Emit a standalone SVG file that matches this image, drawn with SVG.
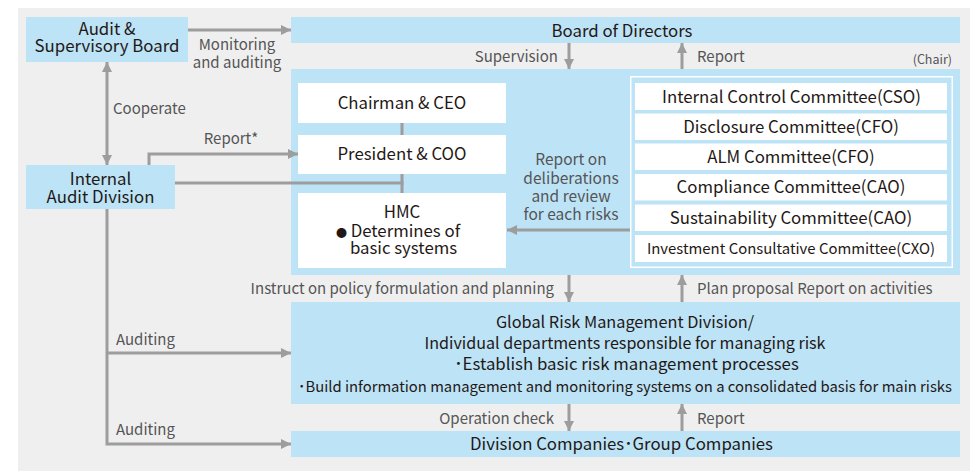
<svg xmlns="http://www.w3.org/2000/svg" width="979" height="472" viewBox="0 0 979 472">
<defs>
<marker id="ah" markerUnits="userSpaceOnUse" markerWidth="10" markerHeight="10" refX="10" refY="5" orient="auto"><path d="M0,0 L10,5 L0,10 z" fill="#9d9d9d"/></marker>
<marker id="as" markerUnits="userSpaceOnUse" markerWidth="10" markerHeight="10" refX="0" refY="5" orient="auto"><path d="M10,0 L0,5 L10,10 z" fill="#9d9d9d"/></marker>
<style>
.b{fill:#bde3f7}
.w{fill:#ffffff}
.t{font-family:"Noto Sans CJK JP","Noto Sans",sans-serif;font-size:16.8px;fill:#231815;text-anchor:middle}
.c{font-family:"Noto Sans CJK JP","Noto Sans",sans-serif;font-size:16.8px;fill:#231815;text-anchor:middle}
.l{font-family:"Noto Sans CJK JP","Noto Sans",sans-serif;font-size:15px;fill:#555555}
.ln{fill:none;stroke:#9d9d9d;stroke-width:3}
</style>
</defs>
<rect x="18" y="8" width="952" height="463" fill="#efefef"/>

<g id="audit-board">
<rect class="b" x="26" y="17" width="162" height="45"/>
<text class="t" x="107" y="34.5">Audit &amp;</text>
<text class="t" x="107" y="52">Supervisory Board</text>
</g>
<g id="internal-audit">
<rect class="b" x="26" y="165" width="149" height="44"/>
<text class="t" x="100.5" y="185">Internal</text>
<text class="t" x="100.5" y="202.5">Audit Division</text>
</g>
<g id="board">
<rect class="b" x="291" y="17" width="669" height="26"/>
<text class="t" x="622" y="36.5">Board of Directors</text>
</g>
<g id="management-panel">
<rect class="b" x="291" y="69" width="669" height="206"/>
</g>
<g id="chairman">
<rect class="w" x="298" y="83" width="208" height="40"/>
<text class="t" x="402" y="109">Chairman &amp; CEO</text>
</g>
<g id="president">
<rect class="w" x="298" y="135" width="208" height="39"/>
<text class="t" x="402" y="160">President &amp; COO</text>
</g>
<g id="hmc">
<rect class="w" x="298" y="193" width="208" height="75"/>
<text class="t" x="402" y="218">HMC</text>
<text class="t" x="398" y="236.5"><tspan style="font-size:11px">●</tspan> Determines of</text>
<text class="t" x="403.5" y="254">basic systems</text>
</g>
<g id="committees">
<rect x="630.75" y="76.75" width="321.5" height="190.5" fill="none" stroke="#ffffff" stroke-width="1.5"/>
<rect class="w" x="635" y="83" width="312" height="27"/>
<text class="c" x="791.5" y="102.5">Internal Control Committee(CSO)</text>
<rect class="w" x="635" y="113.5" width="312" height="26.5"/>
<text class="c" x="791" y="133">Disclosure Committee(CFO)</text>
<rect class="w" x="635" y="143.5" width="312" height="26.5"/>
<text class="c" x="791" y="163">ALM Committee(CFO)</text>
<rect class="w" x="635" y="174" width="312" height="26.5"/>
<text class="c" x="791" y="193">Compliance Committee(CAO)</text>
<rect class="w" x="635" y="204.5" width="312" height="26.5"/>
<text class="c" x="791" y="223.5">Sustainability Committee(CAO)</text>
<rect class="w" x="635" y="235" width="312" height="27"/>
<text class="c" x="791" y="253.5" style="font-size:14.9px">Investment Consultative Committee(CXO)</text>
</g>
<g id="global-risk">
<rect class="b" x="291" y="302" width="669" height="102"/>
<text class="t" x="625" y="327.5" style="font-size:16.3px">Global Risk Management Division/</text>
<text class="t" x="625" y="348.5" style="font-size:16.1px">Individual departments responsible for managing risk</text>
<text class="t" x="626.5" y="370">･Establish basic risk management processes</text>
<text class="t" x="625" y="391.5" style="font-size:14.8px">･Build information management and monitoring systems on a consolidated basis for main risks</text>
</g>
<g id="companies">
<rect class="b" x="291" y="431" width="669" height="26"/>
<text class="t" x="621.5" y="450">Division Companies･Group Companies</text>
</g>

<g id="connectors">
<line class="ln" x1="188" y1="30" x2="291" y2="30" marker-end="url(#ah)"/>
<line class="ln" x1="107" y1="62" x2="107" y2="165" marker-start="url(#as)" marker-end="url(#ah)"/>
<polyline class="ln" points="149,165 149,154 298,154" marker-end="url(#ah)"/>
<line class="ln" x1="175" y1="183" x2="403.5" y2="183"/>
<line class="ln" x1="402" y1="123" x2="402" y2="135"/>
<line class="ln" x1="402" y1="174" x2="402" y2="193"/>
<line class="ln" x1="630" y1="230" x2="507" y2="230" marker-end="url(#ah)"/>
<line class="ln" x1="569" y1="43" x2="569" y2="69" marker-end="url(#ah)"/>
<line class="ln" x1="682" y1="69" x2="682" y2="43" marker-end="url(#ah)"/>
<line class="ln" x1="569" y1="275" x2="569" y2="302" marker-end="url(#ah)"/>
<line class="ln" x1="682" y1="302" x2="682" y2="275" marker-end="url(#ah)"/>
<line class="ln" x1="569" y1="404" x2="569" y2="431" marker-end="url(#ah)"/>
<line class="ln" x1="682" y1="431" x2="682" y2="404" marker-end="url(#ah)"/>
<polyline class="ln" points="107,209 107,444 291,444" marker-end="url(#ah)"/>
<line class="ln" x1="107" y1="353" x2="291" y2="353" marker-end="url(#ah)"/>
<text class="l" x="237" y="49.5" text-anchor="middle">Monitoring</text>
<text class="l" x="237" y="68" text-anchor="middle">and auditing</text>
<text class="l" x="113" y="113.5">Cooperate</text>
<text class="l" x="231" y="143.5" text-anchor="middle">Report*</text>
<text class="l" x="558" y="62" text-anchor="end">Supervision</text>
<text class="l" x="697" y="62">Report</text>
<text class="l" x="952" y="64" text-anchor="end" style="font-size:12.5px">(Chair)</text>
<text class="l" x="571" y="165" text-anchor="middle" style="font-size:15.5px">Report on</text>
<text class="l" x="571" y="184" text-anchor="middle" style="font-size:15.5px">deliberations</text>
<text class="l" x="571" y="202" text-anchor="middle" style="font-size:15.5px">and review</text>
<text class="l" x="571" y="220" text-anchor="middle" style="font-size:15.5px">for each risks</text>
<text class="l" x="554" y="293.5" text-anchor="end">Instruct on policy formulation and planning</text>
<text class="l" x="697" y="293.5">Plan proposal Report on activities</text>
<text class="l" x="116" y="345">Auditing</text>
<text class="l" x="116" y="435">Auditing</text>
<text class="l" x="554" y="423.5" text-anchor="end">Operation check</text>
<text class="l" x="697" y="423.5">Report</text>
</g>
</svg>
